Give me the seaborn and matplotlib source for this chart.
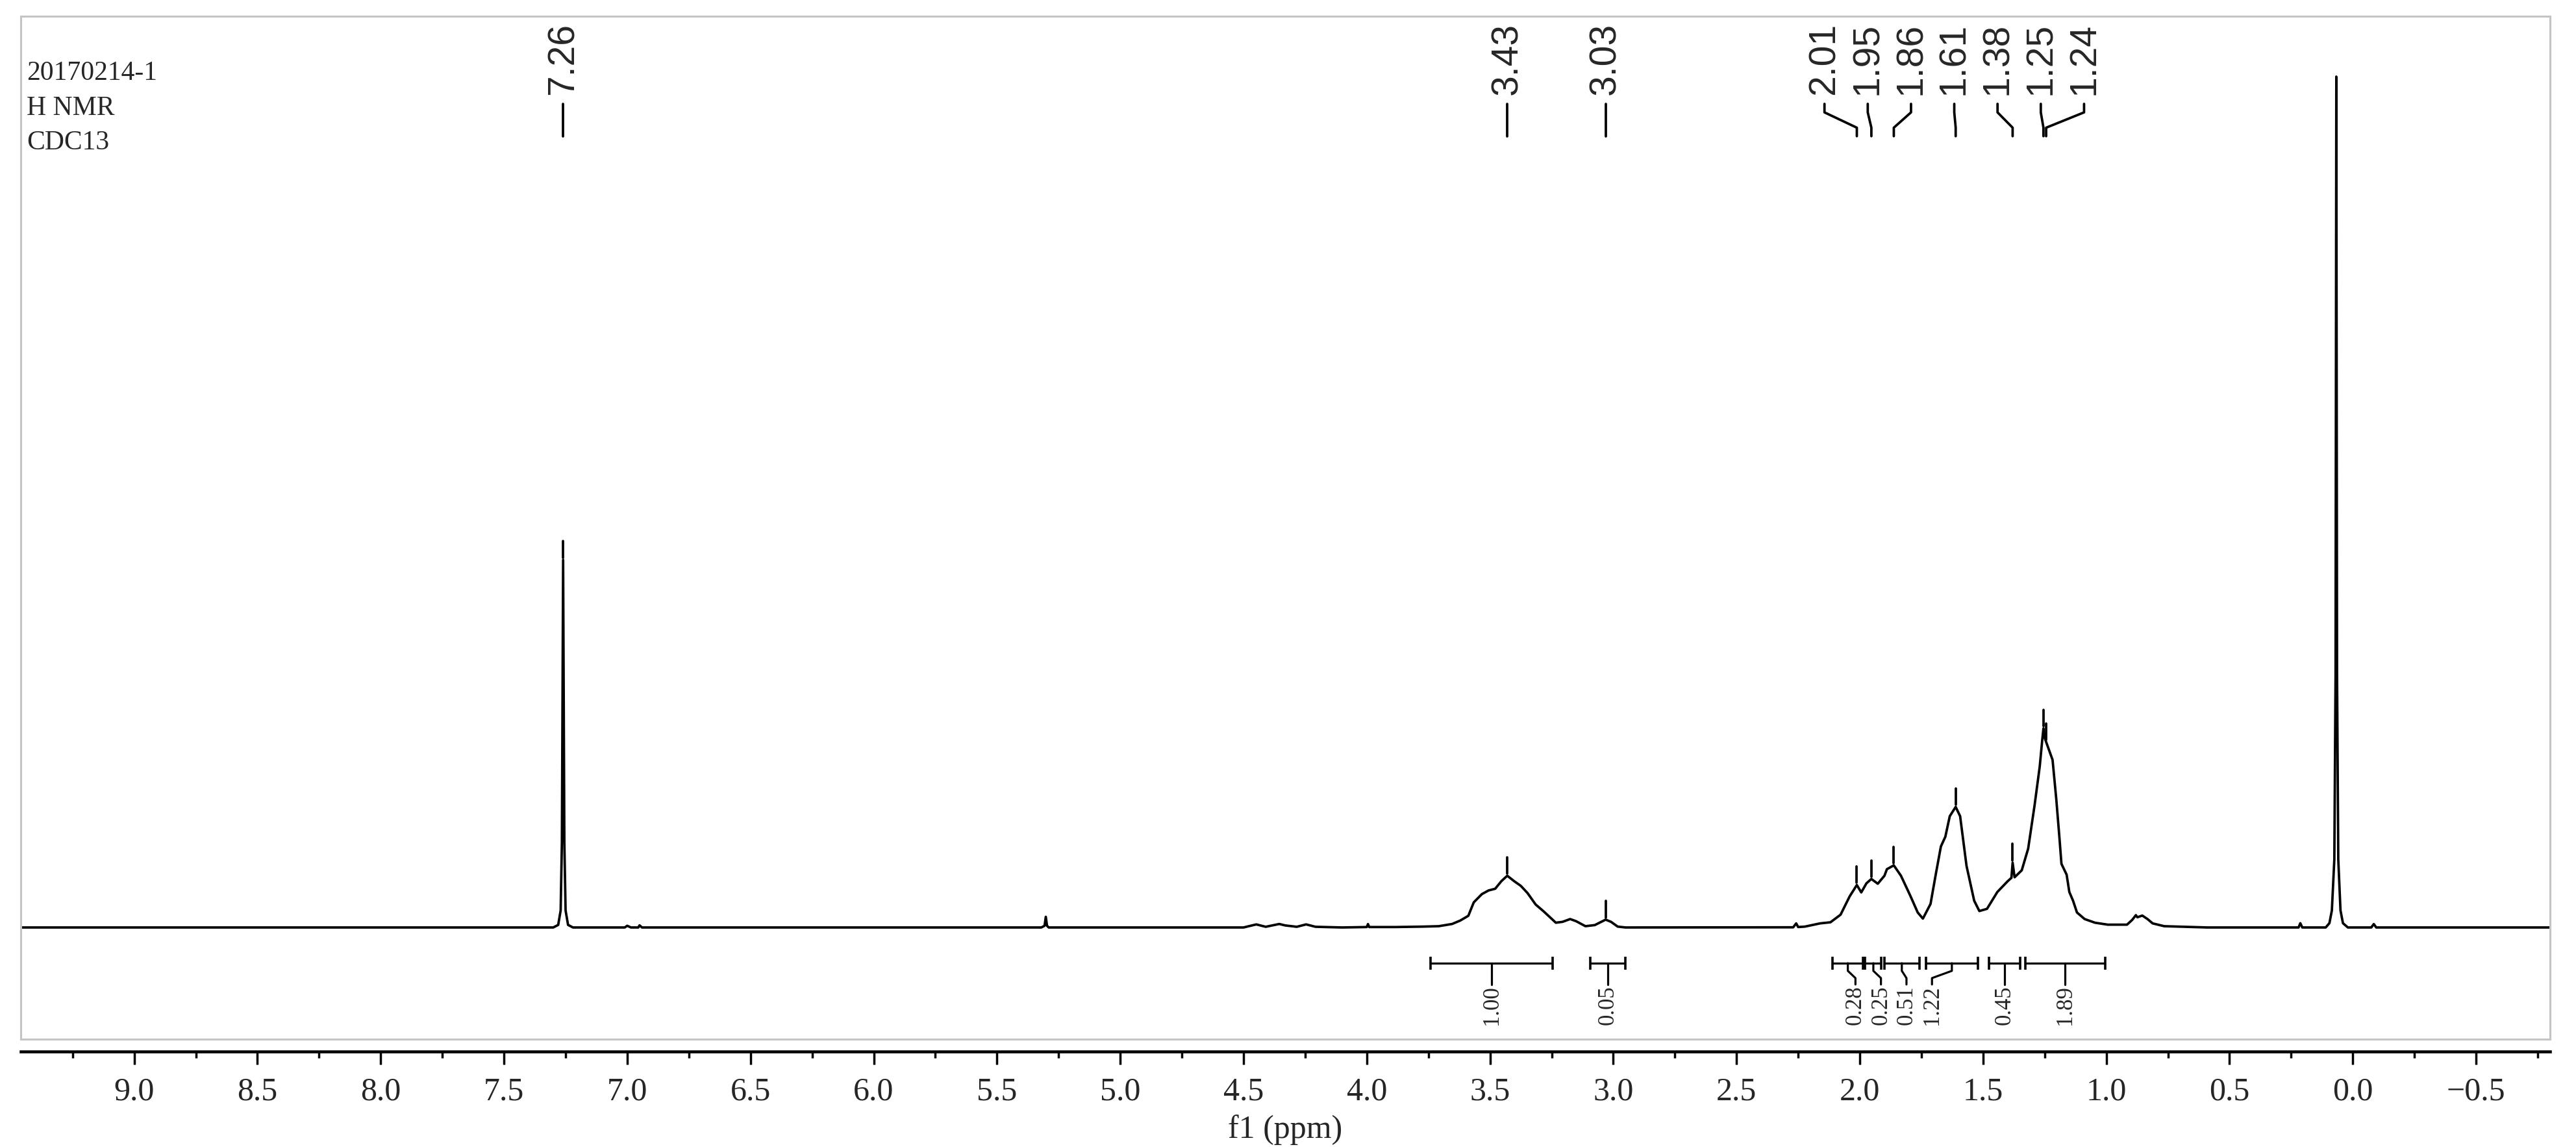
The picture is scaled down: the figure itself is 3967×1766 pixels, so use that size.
import numpy as np
import pandas as pd
import matplotlib
matplotlib.use('Agg')
import matplotlib.pyplot as plt
from matplotlib.ticker import FixedLocator, MultipleLocator
import seaborn as sns

sns.set_theme(style='white')
plt.rcParams['font.family'] = ['Liberation Serif', 'DejaVu Serif']

# 1H trace: ppm vs. relative intensity (TMS = 100)
ppm = [9.46, 7.60, 7.30, 7.28, 7.270, 7.265, 7.262, 7.260, 7.258, 7.255, 7.250, 7.240, 7.22,
       7.01, 7.00, 6.985, 6.955, 6.95, 6.94, 5.32, 5.307, 5.302, 5.297, 5.29,
       4.50, 4.448, 4.41, 4.355, 4.331, 4.284, 4.246, 4.208, 4.10, 4.00, 3.995, 3.99,
       3.883, 3.774, 3.708, 3.654, 3.621, 3.588, 3.566, 3.533, 3.506, 3.479, 3.454, 3.430,
       3.402, 3.375, 3.348, 3.315, 3.282, 3.233, 3.206, 3.175, 3.151, 3.113, 3.075, 3.031,
       3.009, 2.982, 2.95, 2.27, 2.258, 2.250, 2.223, 2.161, 2.119, 2.078, 2.041, 2.012,
       1.994, 1.973, 1.953, 1.927, 1.900, 1.890, 1.862, 1.833, 1.796, 1.765, 1.744, 1.713,
       1.692, 1.671, 1.653, 1.635, 1.611, 1.593, 1.567, 1.536, 1.515, 1.484, 1.442, 1.400,
       1.385, 1.380, 1.372, 1.343, 1.317, 1.291, 1.270, 1.260, 1.255, 1.249, 1.244, 1.218,
       1.203, 1.190, 1.182, 1.161, 1.150, 1.135, 1.119, 1.088, 1.046, 0.994, 0.916, 0.895,
       0.880, 0.874, 0.854, 0.833, 0.812, 0.765, 0.59, 0.22, 0.213, 0.205, 0.11, 0.095,
       0.085, 0.075, 0.070, 0.067, 0.064, 0.059, 0.050, 0.040, 0.02, -0.075, -0.085, -0.095,
       -0.80]
intensity = [0.0, 0.0, 0.0, 0.3, 2.0, 10.0, 30.0, 43.2, 30.0, 10.0, 2.0, 0.3, 0.0,
             0.0, 0.2, 0.0, 0.0, 0.25, 0.0, 0.0, 0.2, 1.25, 0.2, 0.0,
             0.0, 0.36, 0.08, 0.41, 0.24, 0.08, 0.36, 0.08, 0.0, 0.05, 0.4, 0.05,
             0.05, 0.1, 0.15, 0.41, 0.81, 1.37, 2.95, 3.92, 4.35, 4.55, 5.44, 6.08,
             5.44, 4.89, 4.05, 2.70, 1.88, 0.56, 0.66, 0.99, 0.74, 0.15, 0.28, 0.92,
             0.66, 0.10, 0.0, 0.02, 0.48, 0.05, 0.1, 0.48, 0.61, 1.5, 3.66, 4.99,
             4.12, 5.19, 5.70, 5.14, 6.08, 6.85, 7.30, 6.08, 3.79, 1.76, 1.04, 2.77,
             6.21, 9.52, 10.66, 13.08, 14.17, 13.08, 7.23, 3.15, 1.93, 2.19, 4.17, 5.44,
             5.83, 7.61, 5.9, 6.72, 9.26, 14.35, 18.93, 22.0, 23.4, 22.2, 21.8, 19.7,
             15.1, 10.5, 7.48, 6.21, 4.17, 3.15, 1.76, 0.99, 0.56, 0.33, 0.33, 0.89,
             1.45, 1.2, 1.4, 0.99, 0.48, 0.15, 0.0, 0.0, 0.5, 0.0, 0.0, 0.5,
             2.0, 8.0, 30.0, 100.0, 30.0, 8.0, 2.0, 0.5, 0.0, 0.0, 0.4, 0.0,
             0.0]

# picked peaks (labels shown with two decimals)
peak_ppm = [7.260, 3.430, 3.031, 2.012, 1.953, 1.862, 1.611, 1.380, 1.255, 1.244]

# integration regions and their values
integral_start = [3.740, 3.093, 2.110, 1.978, 1.900, 1.731, 1.476, 1.329]
integral_end = [3.245, 2.950, 1.987, 1.912, 1.759, 1.522, 1.350, 1.004]
integral_value = [1.00, 0.05, 0.28, 0.25, 0.51, 1.22, 0.45, 1.89]

tick_ppm = [9.0, 8.5, 8.0, 7.5, 7.0, 6.5, 6.0, 5.5, 5.0, 4.5, 4.0, 3.5, 3.0, 2.5, 2.0, 1.5, 1.0, 0.5, 0.0, -0.5]
tick_text = ['9.0', '8.5', '8.0', '7.5', '7.0', '6.5', '6.0', '5.5', '5.0', '4.5', '4.0', '3.5',
             '3.0', '2.5', '2.0', '1.5', '1.0', '0.5', '0.0', '\u22120.5']
header = ['20170214-1', 'H NMR', 'CDC13']

spec = pd.DataFrame({'ppm': ppm, 'intensity': intensity})

GRAY = '#c4c4c4'
LW = 2.7


def spread(pos, step, join):
    # labels closer than `join` are grouped and laid out evenly around the group mean
    groups = [[p] for p in pos]
    changed = True
    while changed:
        changed = False
        out = []
        for g in groups:
            if out:
                prev = out[-1]
                prev_low = np.mean(prev) - step * (len(prev) - 1) / 2
                cur_high = np.mean(g) + step * (len(g) - 1) / 2
                if prev_low - cur_high < join:
                    out[-1] = prev + g
                    changed = True
                    continue
            out.append(g)
        groups = out
    res = []
    for g in groups:
        c = np.mean(g)
        res += [c + step * ((len(g) - 1) / 2 - i) for i in range(len(g))]
    return res


fig = plt.figure(figsize=(39.67, 17.66), dpi=100)
ax = fig.add_axes([0.00807, 0.0940, 0.98185, 0.89185])

sns.lineplot(data=spec, x='ppm', y='intensity', color='black', linewidth=LW,
             sort=False, estimator=None, ax=ax)

ax.set_xlim(9.46, -0.80)
ax.set_ylim(-13.13, 107.1)

# frame + separate ppm scale underneath
for s in ['left', 'right', 'top']:
    ax.spines[s].set_color(GRAY)
    ax.spines[s].set_linewidth(2.2)
ax.spines['bottom'].set_color('black')
ax.spines['bottom'].set_linewidth(3.3)
ax.spines['bottom'].set_position(('outward', 13.7))
ax.axhline(-13.13, color=GRAY, lw=2.2, clip_on=False)

ax.set_yticks([])
ax.set_ylabel('')
ax.xaxis.set_major_locator(FixedLocator(tick_ppm))
ax.set_xticklabels(tick_text)
ax.xaxis.set_minor_locator(MultipleLocator(0.25))
ax.tick_params(axis='x', which='major', direction='out', length=14.4, width=2.5,
               labelsize=36, pad=14, bottom=True, color='black')
ax.tick_params(axis='x', which='minor', direction='out', length=7.2, width=2.5,
               bottom=True, color='black')
ax.set_xlabel('f1 (ppm)', fontsize=36, labelpad=8)

# header text
for txt, yf in zip(header, [0.9378, 0.9035, 0.8698]):
    ax.text(0.0023, yf, txt, transform=ax.transAxes, fontsize=30, va='baseline', ha='left')

# peak picking labels
xs = np.array(ppm)[::-1]
ys = np.array(intensity)[::-1]
lab_x = spread(peak_ppm, 0.1755, 2.15 * 0.1755)
for p, lx in zip(peak_ppm, lab_x):
    top = np.interp(p, xs, ys)
    ax.plot([p, p], [top + 0.25, top + 2.2], color='black', lw=LW)
    ax.plot([p, p, lx, lx], [93.0, 94.0, 95.8, 96.8], color='black', lw=LW)
    ax.text(lx, 97.9, f'{p:.2f}', rotation=90, ha='center', va='bottom',
            fontsize=41, family=['Liberation Sans', 'DejaVu Sans'])

# integrals
centers = [(a + b) / 2 for a, b in zip(integral_start, integral_end)]
int_x = spread(centers, 0.1035, 2.15 * 0.1035)
for a, b, c, lx, v in zip(integral_start, integral_end, centers, int_x, integral_value):
    ax.hlines(-4.2, b, a, color='black', lw=2.3)
    ax.vlines([a, b], -5.0, -3.4, color='black', lw=2.6)
    ax.plot([c, c, lx, lx], [-4.2, -5.1, -5.95, -6.7], color='black', lw=2.3)
    ax.text(lx, -6.8, f'{v:.2f}', rotation=90, ha='center', va='top', fontsize=25)

fig.savefig('out.png', dpi=100)
